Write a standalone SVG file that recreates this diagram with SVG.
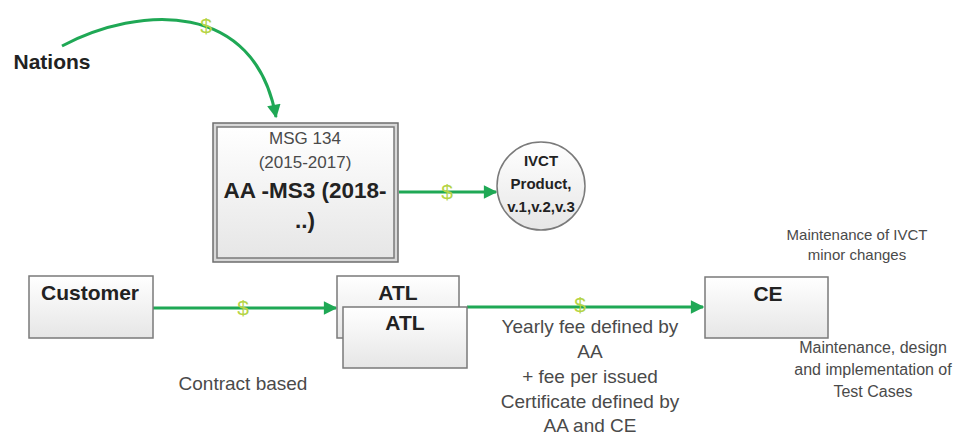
<svg xmlns="http://www.w3.org/2000/svg" width="963" height="437" viewBox="0 0 963 437">
<defs>
<linearGradient id="boxfill" x1="0" y1="0" x2="0" y2="1">
<stop offset="0" stop-color="#ffffff"/>
<stop offset="1" stop-color="#e6e6e6"/>
</linearGradient>
<marker id="arr" viewBox="0 0 10 10" refX="9" refY="5" markerWidth="5" markerHeight="4.5" orient="auto" markerUnits="strokeWidth">
<path d="M0,0 L10,5 L0,10 z" fill="#1fa855"/>
</marker>
<style>
.box{fill:url(#boxfill);stroke:#7a7a7a;stroke-width:1.5}
.lbl{font-family:"Liberation Sans",Arial,sans-serif;fill:#222;text-anchor:middle}
.b{font-weight:bold}
.note{font-family:"Liberation Sans",Arial,sans-serif;fill:#4a4a4a;text-anchor:middle}
.conn{fill:none;stroke:#1fa855;stroke-width:3;marker-end:url(#arr)}
.dollar{font-family:"Liberation Sans",Arial,sans-serif;fill:#b5d445;font-size:21px;text-anchor:middle}
</style>
</defs>
<rect width="963" height="437" fill="#ffffff"/>

<g id="connectors">
<path class="conn" d="M62,46 C140,5 255,0 276,117"/>
<path class="conn" d="M399,192 L496,192"/>
<path class="conn" d="M153,308 L336,308"/>
<path class="conn" d="M467,307 L703,307"/>
<text class="dollar" x="206" y="33">$</text>
<text class="dollar" x="447" y="199">$</text>
<text class="dollar" x="243" y="315">$</text>
<text class="dollar" x="580" y="312">$</text>
</g>

<g id="nations">
<text class="lbl b" x="52" y="69" font-size="21" fill="#333">Nations</text>
</g>

<g id="msg134">
<rect x="213" y="123" width="185" height="139" fill="#d8d8d8" stroke="#6e6e6e" stroke-width="1.5"/>
<rect x="217" y="127" width="177" height="131" class="box"/>
<text class="note" x="305" y="144" font-size="17">MSG 134</text>
<text class="note" x="305" y="168" font-size="17">(2015-2017)</text>
<text class="lbl b" x="305" y="198" font-size="22.5">AA -MS3 (2018-</text>
<text class="lbl b" x="305" y="228" font-size="22.5">..)</text>
</g>

<g id="ivct">
<circle cx="541" cy="186" r="44" fill="url(#boxfill)" stroke="#7a7a7a" stroke-width="1.5"/>
<text class="lbl b" x="541" y="166" font-size="15">IVCT</text>
<text class="lbl b" x="541" y="189" font-size="15">Product,</text>
<text class="lbl b" x="541" y="212" font-size="15">v.1,v.2,v.3</text>
</g>

<g id="customer">
<rect x="29" y="276" width="124" height="62" class="box"/>
<text class="lbl b" x="90" y="300" font-size="21">Customer</text>
</g>

<g id="atl-back">
<rect x="337" y="276" width="122" height="62" class="box"/>
<text class="lbl b" x="398" y="300" font-size="21">ATL</text>
</g>

<g id="atl-front">
<rect x="343" y="307" width="124" height="61" class="box"/>
<text class="lbl b" x="405" y="330" font-size="21">ATL</text>
</g>

<g id="ce">
<rect x="705" y="277" width="123" height="61" class="box"/>
<text class="lbl b" x="768" y="301" font-size="21">CE</text>
</g>

<g id="notes">
<text class="note" x="243" y="390" font-size="19">Contract based</text>
<text class="note" x="590" y="333" font-size="19">Yearly fee defined by</text>
<text class="note" x="590" y="358" font-size="19">AA</text>
<text class="note" x="590" y="383" font-size="19">+ fee per issued</text>
<text class="note" x="590" y="408" font-size="19">Certificate defined by</text>
<text class="note" x="590" y="432" font-size="19">AA and CE</text>
<text class="note" x="857" y="240" font-size="15">Maintenance of IVCT</text>
<text class="note" x="857" y="260" font-size="15">minor changes</text>
<text class="note" x="873" y="353" font-size="16">Maintenance,  design</text>
<text class="note" x="873" y="375" font-size="16">and implementation  of</text>
<text class="note" x="873" y="397" font-size="16">Test Cases</text>
</g>
</svg>
